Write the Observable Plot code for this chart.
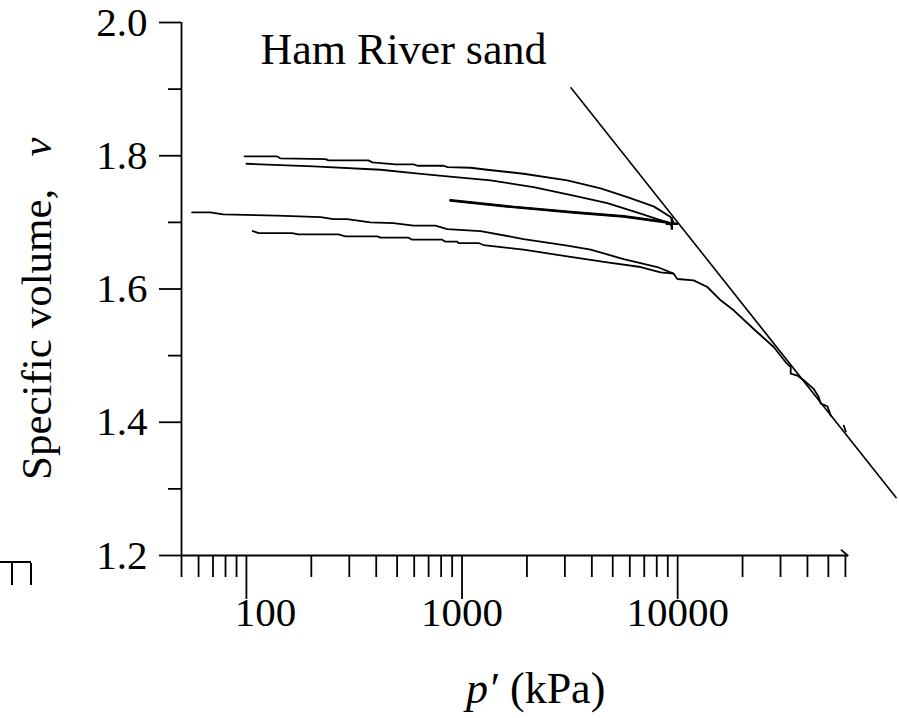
<!DOCTYPE html>
<html>
<head>
<meta charset="utf-8">
<script src="https://cdn.jsdelivr.net/npm/d3@7"></script>
<script src="https://cdn.jsdelivr.net/npm/@observablehq/plot@0.6"></script>
<style>
  html, body { margin: 0; padding: 0; background: #fff; }
  #wrap { position: relative; width: 899px; height: 718px; }
  #glyph { position: absolute; left: 0; top: 561px; width: 31px; height: 22px; border-top: 2px solid #000; }
  #glyph div { position: absolute; left: 11px; top: 0; width: 17px; height: 22px; border-left: 2px solid #000; border-right: 2px solid #000; }
</style>
</head>
<body>
<div id="wrap"><div id="glyph"><div></div></div></div>
<script>
// ---- data (p' in kPa, specific volume v) ----
const pA = [98,139,144,233,240,368,384,491,596,622,821,857,1095,1309,1929,3077,4391,5844,7739,9280,9580];
const vA = [1.799,1.799,1.796,1.795,1.793,1.793,1.790,1.787,1.787,1.785,1.785,1.783,1.782,1.779,1.773,1.763,1.751,1.738,1.724,1.708,1.700];

const pB = [100,205,419,596,854,1357,2146,3291,4719,6734,8958,9300];
const vB = [1.788,1.784,1.779,1.774,1.769,1.763,1.753,1.740,1.729,1.713,1.700,1.697];

const pE = [884,1621,3291,5616,8958,9300];
const vE = [1.733,1.724,1.715,1.709,1.700,1.697];

const pC = [56,68,78,139,221,253,293,376,481,596,753,854,1219,1929,3077,3948,5616,8051,9580,9968,11864,13733,15832,18195,22527,27900,31710,33450,33450,35940,38430,42770,45110,46090,49500,51290];
const vC = [1.715,1.715,1.712,1.710,1.708,1.705,1.705,1.700,1.699,1.695,1.695,1.690,1.687,1.675,1.665,1.659,1.645,1.633,1.623,1.615,1.613,1.603,1.583,1.568,1.540,1.513,1.490,1.483,1.473,1.470,1.463,1.450,1.438,1.428,1.424,1.410];

const pD = [107,114,163,174,267,288,404,419,565,587,809,838,950,963,1193,1259,1929,3077,4719,6734,8338,9580];
const vD = [1.687,1.684,1.684,1.682,1.682,1.679,1.679,1.677,1.677,1.674,1.674,1.671,1.671,1.669,1.669,1.666,1.659,1.649,1.640,1.633,1.625,1.623];

const pDash = [58930,60210];
const vDash = [1.395,1.386];
const pHook = [57500,61500];
const vHook = [1.208,1.200];

// cluster of end points where the unloading loops meet
const pKnot = [9400];
const vKnot = [1.698];

// normal compression line
const pNCL = [3200,103000];
const vNCL = [1.902,1.287];

// axes
const xDomain = [50, 62000];
const yDomain = [1.2, 2.0];
const yMajor = [1.2, 1.4, 1.6, 1.8, 2.0];
const yMinor = [1.3, 1.5, 1.7, 1.9];
const xMajor = [100, 1000, 10000];
const xMinor = [50,60,70,80,90,200,300,400,500,600,700,800,900,2000,3000,4000,5000,6000,7000,8000,9000,20000,30000,40000,50000,60000];
const xLabelsMain = [1000, 10000];
const xLabelsShifted = [100];

const title = "Ham River sand";
const yLabel = "Specific volume,";
const yLabelVar = "v";
const xLabelVar = "p′";
const xLabelUnit = "(kPa)";

const toRows = (ps, vs) => ps.map((p, i) => ({p, v: vs[i]}));
const series = [[pA,vA],[pB,vB],[pE,vE],[pC,vC],[pD,vD],[pDash,vDash],[pHook,vHook]];

const font = "'Liberation Serif', 'Times New Roman', serif";
const blank = () => "";

const marks = [
  Plot.ruleX([xDomain[0]], {y1: yDomain[0], y2: yDomain[1], strokeWidth: 1.8}),
  Plot.ruleY([yDomain[0]], {x1: xDomain[0], x2: xDomain[1], strokeWidth: 1.8}),
  Plot.axisY({ticks: yMajor, anchor: "left", tickSize: 22, tickPadding: 12, tickFormat: d => d.toFixed(1), fontSize: 41, strokeWidth: 1.8, label: null}),
  Plot.axisY({ticks: yMinor, anchor: "left", tickSize: 13, tickFormat: blank, strokeWidth: 1.8, label: null}),
  Plot.axisX({ticks: xMajor, anchor: "bottom", tickSize: 44, tickFormat: blank, strokeWidth: 1.8, label: null}),
  Plot.axisX({ticks: xMinor, anchor: "bottom", tickSize: 22, tickFormat: blank, strokeWidth: 1.8, label: null}),
  Plot.axisX({ticks: xLabelsMain, anchor: "bottom", tickSize: 0, tickPadding: 41, tickFormat: d => String(d), fontSize: 41, label: null}),
  Plot.axisX({ticks: xLabelsShifted, anchor: "bottom", tickSize: 0, tickPadding: 41, dx: 19, tickFormat: d => String(d), fontSize: 41, label: null}),
  ...series.map(([ps, vs]) => Plot.line(toRows(ps, vs), {x: "p", y: "v", stroke: "black", strokeWidth: 1.8})),
  Plot.line(toRows(pE, vE), {x: "p", y: "v", stroke: "black", strokeWidth: 2.6}),
  Plot.line(toRows(pNCL, vNCL), {x: "p", y: "v", stroke: "black", strokeWidth: 1.6}),
  Plot.dot(toRows(pKnot, vKnot), {x: "p", y: "v", symbol: "plus", r: 4, stroke: "black", strokeWidth: 2.4}),
  Plot.text([title], {frameAnchor: "top-left", dx: 79, dy: 41, textAnchor: "start", lineAnchor: "bottom", fontSize: 44, fill: "black"}),
  Plot.text([yLabel], {frameAnchor: "left", dx: -131, dy: 191, rotate: -90, textAnchor: "start", lineAnchor: "bottom", fontSize: 43, fill: "black"}),
  Plot.text([yLabelVar], {frameAnchor: "left", dx: -131, dy: -142, rotate: -90, textAnchor: "middle", lineAnchor: "bottom", fontSize: 43, fontStyle: "italic", fill: "black"}),
  Plot.text([xLabelVar], {frameAnchor: "bottom", dx: -49, dy: 147, textAnchor: "start", lineAnchor: "bottom", fontSize: 44, fontStyle: "italic", fill: "black"}),
  Plot.text([xLabelUnit], {frameAnchor: "bottom", dx: -5, dy: 147, textAnchor: "start", lineAnchor: "bottom", fontSize: 44, fill: "black"})
];

const chart = Plot.plot({
  width: 899,
  height: 718,
  marginLeft: 181,
  marginRight: 51,
  marginTop: 22,
  marginBottom: 163,
  style: {fontFamily: font, color: "black", background: "white", overflow: "visible"},
  x: {type: "log", domain: xDomain, axis: null},
  y: {domain: yDomain, axis: null},
  marks
});
chart.style.position = "absolute";
chart.style.left = "0";
chart.style.top = "0";
document.getElementById("wrap").prepend(chart);
</script>
</body>
</html>
